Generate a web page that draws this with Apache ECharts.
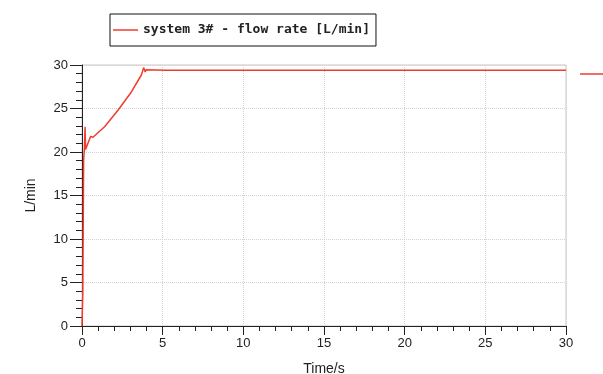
<!DOCTYPE html>
<html>
<head>
<meta charset="utf-8">
<script src="https://cdn.jsdelivr.net/npm/echarts@6/dist/echarts.min.js"></script>
<style>
html, body { margin: 0; padding: 0; background: #fff; }
#chart { width: 603px; height: 374px; }
</style>
</head>
<body>
<div id="chart"></div>
<script>
// time (s) and flow rate (L/min)
var timeData = [0, 0.05, 0.1, 0.15, 0.19, 0.22, 0.25, 0.54, 0.68, 1.4, 2.23, 3.06, 3.68, 3.82, 3.92, 3.97, 5.2, 5.3, 5.4, 30];
var flowData = [0, 3.7, 19, 20.5, 22.9, 20.3, 20.3, 21.8, 21.7, 22.9, 24.8, 26.9, 28.85, 29.7, 29.2, 29.45, 29.4, 29.25, 29.4, 29.4];
var seriesName = "system 3# - flow rate [L/min]";

var points = timeData.map(function (t, i) { return [t, flowData[i]]; });

var myChart = echarts.init(document.getElementById("chart"));
myChart.setOption({
  animation: false,
  backgroundColor: "#fff",
  legend: [
    {
      data: [seriesName],
      icon: "rect",
      left: 110,
      top: 14,
      padding: [8, 6, 8, 3],
      itemWidth: 25,
      itemHeight: 1.5,
      itemGap: 5,
      borderColor: "#111",
      borderWidth: 1,
      backgroundColor: "#fff",
      selectedMode: false,
      textStyle: {
        fontFamily: "DejaVu Sans Mono",
        fontSize: 13,
        fontWeight: "bold",
        color: "#222",
        lineHeight: 16
      }
    },
    {
      // cut-off legend at the right edge
      data: [seriesName],
      icon: "rect",
      left: 580,
      top: 66,
      padding: 0,
      itemWidth: 25,
      itemHeight: 1.5,
      selectedMode: false,
      textStyle: { fontSize: 13, color: "#222", lineHeight: 16 }
    }
  ],
  grid: {
    left: 82,
    right: 37,
    top: 65,
    bottom: 48,
    outerBoundsMode: "none",
    containLabel: false,
    show: true,
    borderColor: "#c8c8c8",
    borderWidth: 1
  },
  xAxis: {
    type: "value",
    min: 0,
    max: 30,
    interval: 5,
    name: "Time/s",
    nameLocation: "middle",
    nameGap: 36,
    nameTextStyle: { fontFamily: "Liberation Sans", fontSize: 14, color: "#222" },
    axisLine: { lineStyle: { color: "#222", width: 1 } },
    axisTick: { length: 9, lineStyle: { color: "#222" } },
    minorTick: { show: true, splitNumber: 5, length: 5, lineStyle: { color: "#222" } },
    axisLabel: { fontFamily: "Liberation Sans", fontSize: 13, color: "#222", margin: 11 },
    splitLine: { show: true, lineStyle: { type: "dotted", color: "#d8d0d0" } }
  },
  yAxis: {
    type: "value",
    min: 0,
    max: 30,
    interval: 5,
    name: "L/min",
    nameLocation: "middle",
    nameGap: 44,
    nameRotate: 90,
    nameTextStyle: { fontFamily: "Liberation Sans", fontSize: 14, color: "#222" },
    axisLine: { show: true, lineStyle: { color: "#222", width: 1 } },
    axisTick: { show: true, length: 12, lineStyle: { color: "#222" } },
    minorTick: { show: true, splitNumber: 5, length: 6, lineStyle: { color: "#222" } },
    axisLabel: { fontFamily: "Liberation Sans", fontSize: 13, color: "#222", margin: 14 },
    splitLine: { show: true, lineStyle: { type: "dotted", color: "#d8d0d0" } }
  },
  series: [
    {
      name: seriesName,
      type: "line",
      data: points,
      symbol: "none",
      lineStyle: { color: "#f03c2e", width: 1.5 },
      itemStyle: { color: "#f03c2e" }
    }
  ]
});
</script>
</body>
</html>
